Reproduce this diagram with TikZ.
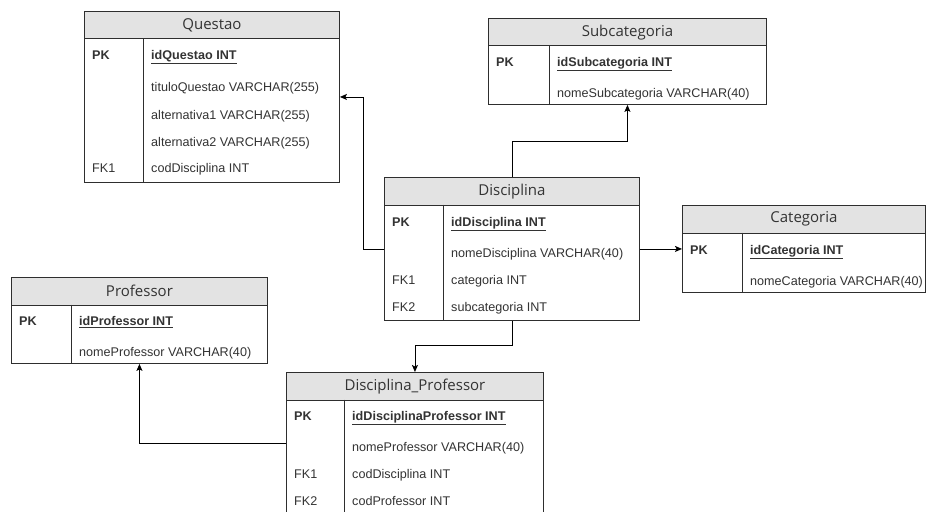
\documentclass[tikz,border=0pt]{standalone}
\usepackage{fontspec}
\setmainfont{Liberation Sans}
\newfontfamily\hdrf{Open Sans}
\usetikzlibrary{arrows.meta}
\definecolor{linec}{HTML}{2E2E2E}
\definecolor{hdrfill}{HTML}{E3E3E3}
\definecolor{txtc}{HTML}{333333}
\newcommand\rowf{\fontsize{12.6}{14}\selectfont}
\newcommand\hfnt{\hdrf\fontsize{15}{17}\selectfont}
\tikzset{
  tbl/.style={draw=linec, line width=0.9pt, fill=white, anchor=north west, inner sep=0pt},
  hdr/.style={draw=linec, line width=0.9pt, fill=hdrfill, anchor=north west, inner sep=0pt,
              minimum height=27.5pt, font=\hfnt, text=txtc},
  divl/.style={draw=linec, line width=0.9pt},
  rowt/.style={anchor=base west, inner sep=0pt, font=\rowf, text=txtc},
  pkt/.style={rowt, font=\rowf\bfseries},
  conn/.style={draw=black, line width=0.9pt, -{Stealth[length=7pt,width=6pt,inset=1.5pt]}}
}
\begin{document}
\begin{tikzpicture}[x=1pt,y=-1pt]
\useasboundingbox (0,0) rectangle (928,511);
\fill[white] (0,0) rectangle (928,511);
\clip (0,0) rectangle (928,511);

% ---------- Questao ----------
\node[tbl, minimum width=255pt, minimum height=171pt] (quest) at (84,11) {};
\node[hdr, minimum width=255pt] (questH) at (quest.north west) {Questao};
\draw[divl] (143,38.5) -- (143,182);
\node[pkt] (q1k) at (92,59.5) {PK};
\node[pkt] (q1f) at (151,59.5) {\underline{idQuestao INT}};
\node[rowt] (q2f) at (151,91.5) {tituloQuestao VARCHAR(255)};
\node[rowt] (q3f) at (151,119.5) {alternativa1 VARCHAR(255)};
\node[rowt] (q4f) at (151,146.5) {alternativa2 VARCHAR(255)};
\node[rowt] (q5k) at (92,172.5) {FK1};
\node[rowt] (q5f) at (151,172.5) {codDisciplina INT};

% ---------- Subcategoria ----------
\node[tbl, minimum width=278pt, minimum height=86pt] (sub) at (488,18) {};
\node[hdr, minimum width=278pt] (subH) at (sub.north west) {Subcategoria};
\draw[divl] (549,45.5) -- (549,104);
\node[pkt] (s1k) at (496,66.5) {PK};
\node[pkt] (s1f) at (557,66.5) {\underline{idSubcategoria INT}};
\node[rowt] (s2f) at (557,97.5) {nomeSubcategoria VARCHAR(40)};

% ---------- Disciplina ----------
\node[tbl, minimum width=255pt, minimum height=143pt] (disc) at (384,177) {};
\node[hdr, minimum width=255pt] (discH) at (disc.north west) {Disciplina};
\draw[divl] (443,204.5) -- (443,320);
\node[pkt] (d1k) at (392,226.5) {PK};
\node[pkt] (d1f) at (451,226.5) {\underline{idDisciplina INT}};
\node[rowt] (d2f) at (451,257.5) {nomeDisciplina VARCHAR(40)};
\node[rowt] (d3k) at (392,284.5) {FK1};
\node[rowt] (d3f) at (451,284.5) {categoria INT};
\node[rowt] (d4k) at (392,311.5) {FK2};
\node[rowt] (d4f) at (451,311.5) {subcategoria INT};

% ---------- Categoria ----------
\node[tbl, minimum width=243pt, minimum height=87pt] (cat) at (682,205) {};
\node[hdr, minimum width=243pt] (catH) at (cat.north west) {Categoria};
\draw[divl] (742,232.5) -- (742,292);
\node[pkt] (c1k) at (690,254.5) {PK};
\node[pkt] (c1f) at (750,254.5) {\underline{idCategoria INT}};
\node[rowt] (c2f) at (750,285.5) {nomeCategoria VARCHAR(40)};

% ---------- Professor ----------
\node[tbl, minimum width=256pt, minimum height=86pt] (prof) at (11,277) {};
\node[hdr, minimum width=256pt] (profH) at (prof.north west) {Professor};
\draw[divl] (71,304.5) -- (71,363);
\node[pkt] (p1k) at (19,325.5) {PK};
\node[pkt] (p1f) at (79,325.5) {\underline{idProfessor INT}};
\node[rowt] (p2f) at (79,356.5) {nomeProfessor VARCHAR(40)};

% ---------- Disciplina_Professor ----------
\node[tbl, minimum width=257pt, minimum height=142pt] (dp) at (286,372) {};
\node[hdr, minimum width=257pt] (dpH) at (dp.north west) {Disciplina\_Professor};
\draw[divl] (344,399.5) -- (344,514);
\node[pkt] (x1k) at (294,420.5) {PK};
\node[pkt] (x1f) at (352,420.5) {\underline{idDisciplinaProfessor INT}};
\node[rowt] (x2f) at (352,451.5) {nomeProfessor VARCHAR(40)};
\node[rowt] (x3k) at (294,478.5) {FK1};
\node[rowt] (x3f) at (352,478.5) {codDisciplina INT};
\node[rowt] (x4k) at (294,505.5) {FK2};
\node[rowt] (x4f) at (352,505.5) {codProfessor INT};

% ---------- Connectors ----------
\draw[conn] (disc.west) -- ++(-21,0) |- (quest.east);
\draw[conn] (disc.north) -- ++(0,-36) -| (sub.south);
\draw[conn] (disc.east) -- (cat.west);
\draw[conn] (disc.south) -- ++(0,25) -| (dp.north);
\draw[conn] (dp.west) -| (prof.south);
\end{tikzpicture}
\end{document}
